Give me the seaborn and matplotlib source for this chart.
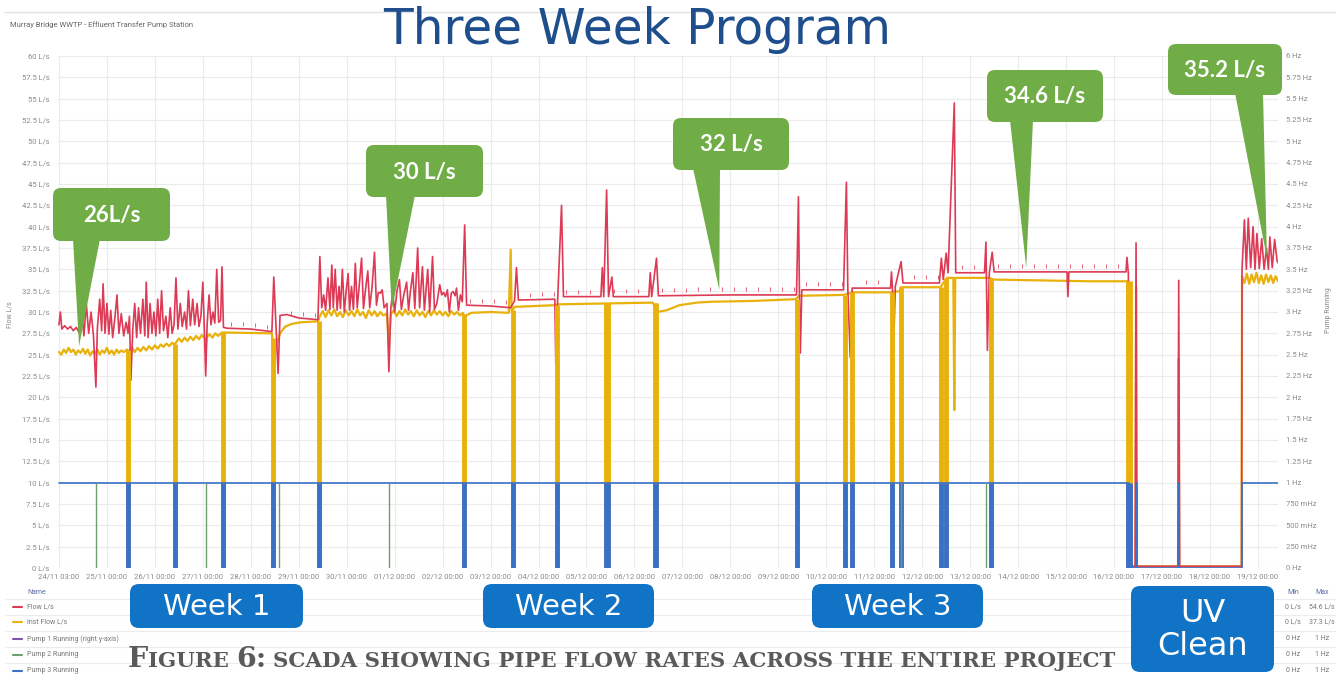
import numpy as np
import pandas as pd
import matplotlib
matplotlib.use("Agg")
import matplotlib.pyplot as plt
import seaborn as sns
from matplotlib.patches import FancyBboxPatch, Polygon

W, H = 1336, 675

# ---------------- data ----------------
day_labels = ["24/11 03:00", "25/11 00:00", "26/11 00:00", "27/11 00:00", "28/11 00:00",
              "29/11 00:00", "30/11 00:00", "01/12 00:00", "02/12 00:00", "03/12 00:00",
              "04/12 00:00", "05/12 00:00", "06/12 00:00", "07/12 00:00", "08/12 00:00",
              "09/12 00:00", "10/12 00:00", "11/12 00:00", "12/12 00:00", "13/12 00:00",
              "14/12 00:00", "15/12 00:00", "16/12 00:00", "17/12 00:00", "18/12 00:00",
              "19/12 00:00"]

# Flow L/s (red) : time in days since 24/11 00:00
flow_t = [0.00, 0.03, 0.06, 0.12, 0.18, 0.24, 0.30, 0.36, 0.42, 0.47, 0.52, 0.57, 0.62, 0.67, 0.72,
          0.77, 0.80, 0.85, 0.89, 0.92, 0.96, 1.00, 1.04, 1.08, 1.12, 1.17, 1.21, 1.25, 1.30, 1.35,
          1.40, 1.44,
          1.47, 1.50, 1.54, 1.58, 1.62, 1.66, 1.70, 1.75, 1.79, 1.82, 1.86, 1.90, 1.94, 1.98, 2.02,
          2.06, 2.10, 2.14, 2.18, 2.23, 2.27, 2.32, 2.36, 2.40,
          2.44, 2.48, 2.53, 2.57, 2.62, 2.66, 2.70, 2.74, 2.79, 2.83, 2.88, 2.92, 2.96, 3.00, 3.03,
          3.06, 3.09, 3.13, 3.17, 3.21, 3.25, 3.29, 3.33, 3.37, 3.40, 3.43,
          3.50, 4.00, 4.44, 4.48, 4.52, 4.57, 4.61, 4.75, 5.00, 5.40,
          5.44, 5.48, 5.52, 5.56, 5.61, 5.65, 5.69, 5.72, 5.76, 5.80, 5.84, 5.87, 5.91, 5.95, 5.99,
          6.03, 6.06, 6.10, 6.14, 6.18, 6.22, 6.26, 6.31, 6.35, 6.39, 6.44, 6.48, 6.53, 6.58, 6.62,
          6.66, 6.70, 6.74, 6.78, 6.84, 6.88, 6.92, 6.96, 7.00, 7.05, 7.10, 7.14, 7.19, 7.25, 7.29,
          7.33, 7.38, 7.42, 7.48, 7.52, 7.58, 7.62, 7.69, 7.73, 7.79, 7.83, 7.88, 7.94, 7.98, 8.02,
          8.06, 8.10, 8.14, 8.18, 8.22, 8.26, 8.29, 8.33, 8.37, 8.41,
          8.46, 8.50, 9.00, 9.42, 9.50, 9.54, 9.58, 10.34, 10.36, 10.40, 10.48, 10.52, 11.30, 11.33,
          11.36, 11.42, 11.46, 11.53, 11.56, 12.30, 12.33, 12.36, 12.46, 12.50, 14.00, 15.38,
          15.42, 15.44, 15.46, 15.49, 16.36, 16.42, 16.45, 16.50, 16.54, 17.34, 17.36, 17.38, 17.40,
          17.44, 17.56, 17.60, 18.36, 18.40, 18.44, 18.50, 18.54, 18.67, 18.70, 19.30, 19.33, 19.36,
          19.40, 19.46, 19.50, 21.02, 21.04, 21.06, 22.25, 22.27, 22.30,
          22.33, 22.44, 22.46, 22.48, 23.33, 23.35, 23.37, 24.66, 24.67,
          24.72, 24.76, 24.80, 24.85, 24.90, 24.94, 24.98, 25.03, 25.08, 25.13, 25.18, 25.22, 25.25,
          25.30, 25.35, 25.40, 25.45]
flow_v = [28.5, 30.0, 28.0, 28.4, 28.0, 28.3, 27.8, 28.2, 27.6, 30.5, 27.2, 31.0, 27.5, 30.0, 27.2,
          21.2, 28.0, 31.5, 27.8, 33.3, 27.5, 31.0, 27.4, 30.2, 27.0, 29.5, 32.0, 27.5, 29.8, 27.2,
          28.8, 27.5,
          29.5, 22.0, 28.0, 31.0, 27.0, 30.5, 27.5, 31.5, 27.2, 33.5, 27.0, 31.0, 27.5, 30.0, 27.2,
          31.5, 27.5, 32.5, 27.8, 29.5, 27.0, 30.5, 27.5, 28.5,
          34.0, 28.0, 31.0, 28.3, 30.0, 28.0, 32.5, 28.4, 31.5, 28.5, 31.0, 28.3, 29.5, 33.5, 28.3,
          22.5, 28.6, 32.0, 28.5, 30.0, 28.7, 35.0, 28.8, 29.0, 35.3, 28.2,
          28.1, 28.0, 27.7, 34.1, 29.0, 22.8, 29.6, 29.7, 29.3, 29.1,
          36.5, 30.5, 32.0, 30.2, 34.0, 30.3, 35.5, 30.5, 35.0, 30.2, 33.0, 30.4, 35.0, 30.0, 32.5,
          34.5, 30.2, 33.0, 30.3, 35.7, 30.5, 33.0, 36.3, 30.4, 32.5, 34.8, 30.5, 33.0, 37.0, 30.8,
          32.3, 32.2, 32.6, 30.5, 31.0, 23.0, 30.5, 32.2, 30.0, 32.5, 33.8, 30.3, 32.0, 33.5, 30.2,
          32.5, 34.6, 30.4, 37.5, 30.5, 35.3, 30.2, 35.0, 30.0, 36.5, 30.3, 31.0, 33.2, 32.0, 32.3,
          31.8, 32.6, 30.0, 32.2, 32.4, 31.9, 32.8, 30.2, 32.0, 31.2,
          40.2, 30.8, 30.7, 30.5, 31.3, 35.2, 31.4, 31.5, 24.0, 31.6, 42.5, 31.8, 31.8, 35.2,
          31.8, 44.3, 31.8, 34.1, 31.8, 31.8, 34.6, 31.8, 36.3, 31.9, 32.0, 32.0,
          43.5, 32.5, 25.2, 32.6, 32.6, 45.2, 32.6, 24.7, 32.8, 32.8, 34.7, 32.8, 25.2,
          33.0, 35.9, 33.4, 33.4, 36.3, 33.8, 36.9, 34.6, 54.5, 34.6, 34.6, 38.2, 25.5,
          34.6, 37.0, 34.7, 34.7, 31.8, 34.7, 34.7, 36.4, 34.5,
          0.2, 0.2, 38.1, 0.2, 0.2, 33.7, 0.2, 0.2, 35.0,
          40.8, 35.0, 41.0, 35.2, 40.0, 35.0, 39.2, 35.1, 38.6, 35.0, 37.5, 35.0, 38.8,
          35.2, 38.5, 36.0, 35.5]

# small periodic ticks on top of the flow line
flow_tick_t = [3.58, 3.83, 4.08, 4.33, 4.83, 5.08, 5.33, 8.58, 8.83, 9.08, 9.33, 9.83, 10.08, 10.33,
               10.58, 10.83, 11.08, 11.58, 11.83, 12.08, 12.58, 12.83, 13.08, 13.33, 13.58, 13.83,
               14.08, 14.33, 14.58, 14.83, 15.08, 15.33, 15.58, 15.83, 16.08, 16.33, 16.83, 17.08,
               17.33, 17.83, 18.08, 18.33, 18.83, 19.08, 19.58, 19.83, 20.08, 20.33, 20.58, 20.83,
               21.08, 21.33, 21.58, 21.83, 22.08]
flow_tick_v = [28.6, 28.6, 28.5, 28.3, 29.9, 29.8, 29.7, 31.3, 31.3, 31.3, 31.2, 32.0, 32.1, 32.1,
               32.4, 32.4, 32.4, 32.5, 32.5, 32.5, 32.6, 32.6, 32.6, 32.7, 32.7, 32.7,
               32.7, 32.7, 32.7, 32.7, 32.7, 32.7, 33.3, 33.3, 33.3, 33.3, 33.5, 33.5,
               33.5, 34.1, 34.1, 34.1, 35.3, 35.3, 35.4, 35.4, 35.4, 35.4, 35.4, 35.4,
               35.4, 35.4, 35.4, 35.4, 35.4]

# Inst Flow L/s (yellow)
inst_t = [0.00, 0.05, 0.10, 0.15, 0.20, 0.25, 0.30, 0.35, 0.40, 0.45, 0.50, 0.55, 0.60, 0.65, 0.70,
          0.75, 0.80, 0.85, 0.90, 0.95, 1.00, 1.05, 1.10, 1.15, 1.20, 1.25, 1.30, 1.35, 1.42,
          1.46, 1.52, 1.58, 1.64, 1.70, 1.76, 1.82, 1.88, 1.94, 2.00, 2.06, 2.12, 2.18, 2.24, 2.30,
          2.36, 2.40,
          2.44, 2.50, 2.56, 2.62, 2.68, 2.74, 2.80, 2.86, 2.92, 2.98, 3.04, 3.06, 3.08, 3.14, 3.20,
          3.26, 3.32, 3.40, 3.44, 4.44,
          4.48, 4.55, 4.62, 4.72, 4.85, 5.05, 5.40,
          5.44, 5.50, 5.56, 5.62, 5.68, 5.74, 5.80, 5.86, 5.92, 5.98, 6.04, 6.10, 6.16, 6.22, 6.28,
          6.34, 6.40, 6.46, 6.52, 6.58, 6.64, 6.70, 6.76, 6.84, 6.88, 6.92, 6.98, 7.04, 7.10, 7.16,
          7.22, 7.28, 7.34, 7.40, 7.46, 7.52, 7.58, 7.64, 7.70, 7.76, 7.82, 7.88, 7.94, 8.00, 8.06,
          8.12, 8.18, 8.24, 8.30, 8.36, 8.42,
          8.46, 8.60, 9.00, 9.38, 9.42, 9.44, 9.50, 10.34, 10.42, 11.36, 11.46, 12.38,
          12.48, 12.67, 12.94, 13.30, 13.60, 14.50, 15.36, 15.44, 16.36,
          16.54, 17.36, 17.38, 17.42, 17.52, 17.56, 18.38, 18.52, 18.65, 18.67, 18.69, 19.40,
          19.48, 20.50, 21.50, 22.28,
          22.33, 22.45, 22.46, 22.47, 23.34, 23.35, 23.36, 24.66,
          24.67, 24.72, 24.77, 24.82, 24.87, 24.92, 24.97, 25.02, 25.07, 25.12, 25.17, 25.22, 25.27,
          25.32, 25.37, 25.42]
inst_v = [25.3, 25.0, 25.6, 25.2, 25.8, 25.3, 25.6, 25.0, 25.5, 25.2, 25.7, 25.1, 25.6, 24.9, 25.4,
          25.1, 25.6, 25.0, 25.5, 25.2, 25.8, 25.1, 25.5, 25.0, 25.6, 25.2, 25.5, 25.3, 25.6,
          25.4, 25.9, 25.3, 25.8, 25.4, 25.9, 25.5, 26.0, 25.6, 26.1, 25.7, 26.2, 25.9, 26.3, 26.0,
          26.4, 26.2,
          26.4, 26.9, 26.5, 27.0, 26.6, 27.1, 26.7, 27.2, 26.8, 27.3, 26.9, 26.0, 27.0, 27.4, 27.0,
          27.5, 27.2, 27.6, 27.6, 27.5,
          24.8, 26.5, 27.6, 28.3, 28.6, 28.8, 28.9,
          29.5, 30.1, 29.4, 30.2, 29.6, 30.3, 29.5, 30.0, 29.4, 30.2, 29.6, 30.1, 29.5, 30.3, 29.6,
          30.0, 29.3, 30.2, 29.6, 30.1, 29.5, 30.0, 29.6, 29.8, 26.0, 29.7, 30.2, 29.5, 30.1, 29.6,
          30.3, 29.7, 30.1, 29.5, 30.2, 29.6, 30.0, 29.4, 30.1, 29.6, 30.2, 29.7, 30.1, 29.6, 30.0,
          29.5, 30.1, 29.7, 30.0, 29.6, 29.9,
          29.5, 29.9, 30.0, 29.9, 37.3, 30.0, 30.6, 30.8, 30.9, 31.0, 31.0, 31.1,
          30.0, 30.2, 30.8, 31.1, 31.2, 31.3, 31.5, 31.9, 32.0,
          32.3, 32.3, 26.4, 32.4, 32.4, 32.9, 32.9, 34.0, 34.0, 18.5, 34.0, 34.0,
          33.8, 33.7, 33.6, 33.6,
          0.2, 0.2, 33.0, 0.2, 0.2, 24.5, 0.2, 0.2,
          34.2, 33.4, 34.5, 33.3, 34.4, 33.5, 34.6, 33.4, 34.3, 33.3, 34.4, 33.5, 34.3,
          33.4, 34.2, 33.6]

# pump change-over events: both flows briefly drop to zero
switch_t = [1.44, 2.42, 3.42, 4.46, 5.42, 8.44, 9.46, 10.38, 11.40, 11.45, 12.42, 12.46, 15.40,
            16.40, 16.53, 17.38, 17.55, 18.40, 18.50, 19.44, 22.30, 22.33]
switch_top = [25.6, 26.3, 27.6, 27.0, 29.0, 29.8, 30.2, 30.8, 31.0, 31.0, 31.1, 31.0, 31.5,
              32.0, 32.3, 32.3, 32.9, 32.9, 34.0, 34.0, 33.6, 33.6]

# Pump 3 Running (Hz, right axis)
pump3_t = [0.00, 22.31, 22.31, 22.46, 22.46, 22.47, 22.47, 23.35, 23.35, 23.36, 23.36, 24.67,
           24.67, 25.45]
pump3_hz = [1, 1, 0, 0, 1, 1, 0, 0, 1, 1, 0, 0, 1, 1]
pump3_off_t = switch_t
# Pump 2 Running (Hz) : short runs
pump2_t = [0.77, 3.06, 4.58, 6.88, 17.56, 19.33]

flow_ticks = np.arange(0, 60.01, 2.5)
hz_ticks = np.arange(0, 6.01, 0.25)
hz_labels = ["0 Hz", "250 mHz", "500 mHz", "750 mHz", "1 Hz", "1.25 Hz", "1.5 Hz", "1.75 Hz",
             "2 Hz", "2.25 Hz", "2.5 Hz", "2.75 Hz", "3 Hz", "3.25 Hz", "3.5 Hz", "3.75 Hz",
             "4 Hz", "4.25 Hz", "4.5 Hz", "4.75 Hz", "5 Hz", "5.25 Hz", "5.5 Hz", "5.75 Hz", "6 Hz"]

callout_labels = ["26L/s", "30 L/s", "32 L/s", "34.6 L/s", "35.2 L/s"]
callout_tip_day = [0.42, 6.94, 13.77, 20.17, 25.19]
callout_tip_flow = [26.0, 30.2, 32.6, 35.2, 36.3]

week_labels = ["Week 1", "Week 2", "Week 3", "UV\nClean"]

legend_names = ["Flow L/s", "Inst Flow L/s", "Pump 1 Running (right y-axis)", "Pump 2 Running",
                "Pump 3 Running"]
legend_min = ["0 L/s", "0 L/s", "0 Hz", "0 Hz", "0 Hz"]
legend_max = ["54.6 L/s", "37.3 L/s", "1 Hz", "1 Hz", "1 Hz"]

# ---------------- style ----------------
RED = "#dd3a55"
YEL = "#e8b10c"
BLUE = "#3b70c8"
GREEN = "#6e9e6e"
PURPLE = "#7d52a8"
CALLOUT = "#70ad47"
BOXBLUE = "#1173c5"
TITLE = "#1f4e8c"
TICKC = "#8a8a8a"

sns.set_theme(style="white")
plt.rcParams['font.family'] = ['DejaVu Sans']

fig = plt.figure(figsize=(W / 100, H / 100), dpi=100)
fig.patch.set_facecolor("white")
ax = fig.add_axes([58 / W, 1 - 568 / H, (1278 - 58) / W, (568 - 56) / H])
ax.set_xlim(-0.02, 25.42)
ax.set_ylim(0, 60)
ax.set_xticks(np.arange(len(day_labels)))
ax.set_xticklabels(day_labels)
ax.set_yticks(flow_ticks)
ax.set_yticklabels([f"{v:g} L/s" for v in flow_ticks])
ax.grid(True, color="#ebebeb", lw=0.8)
ax.set_axisbelow(True)
for s in ax.spines.values():
    s.set_visible(False)
ax.tick_params(axis="y", length=0, labelsize=5.5, labelcolor=TICKC, pad=6)
ax.tick_params(axis="x", length=0, labelsize=5.5, labelcolor=TICKC, pad=4)

sns.lineplot(x=inst_t, y=inst_v, ax=ax, color=YEL, lw=1.6, estimator=None, sort=False, zorder=2)
sns.lineplot(x=flow_t, y=flow_v, ax=ax, color=RED, lw=1.2, estimator=None, sort=False, zorder=2.5)
ax.scatter(flow_tick_t, flow_tick_v, marker="|", s=6, color=RED, linewidths=0.7, alpha=0.8,
           zorder=2.5)
ax.vlines(switch_t, 0, switch_top, color=YEL, lw=3.5, zorder=3)
ax.set_xlabel("")
ax.set_ylabel("")

ax2 = ax.twinx()
ax2.set_ylim(0, 6)
ax2.set_yticks(hz_ticks)
ax2.set_yticklabels(hz_labels)
ax2.grid(False)
for s in ax2.spines.values():
    s.set_visible(False)
ax2.tick_params(axis="y", length=0, labelsize=5.5, labelcolor=TICKC, pad=6)
ax2.vlines(pump3_off_t, 0, 1, color=BLUE, lw=3.5, zorder=3)
sns.lineplot(x=pump3_t, y=pump3_hz, ax=ax2, color=BLUE, lw=1.2, estimator=None, sort=False, zorder=3)
ax2.vlines(pump2_t, 0, 1, color=GREEN, lw=1.0, zorder=3)
ax2.set_ylabel("")

for lab in ax.get_xticklabels() + ax.get_yticklabels() + ax2.get_yticklabels():
    lab.set_fontfamily("Roboto")

# ---------------- overlay (pixel coordinates) ----------------
ov = fig.add_axes([0, 0, 1, 1], zorder=10)
ov.set_xlim(0, W)
ov.set_ylim(H, 0)
ov.axis("off")


def to_px(d, v):
    x, y = ax.transData.transform((d, v))
    return x, H - y


# frame line and header text
ov.plot([4, W], [12, 12], color="#e2e2e2", lw=1.0)
ov.text(10, 25, "Murray Bridge WWTP - Effluent Transfer Pump Station", fontsize=5.5,
        color="#666666", va="center", ha="left", family="Roboto")
ov.text(10, 315, "Flow L/s", fontsize=5, color="#888888", rotation=90, va="center", ha="center",
        family="Roboto")
ov.text(1329, 310, "Pump Running", fontsize=5, color="#888888", rotation=90, va="center",
        ha="center", family="Roboto")

# title
ov.text(637, 44, "Three Week Program", fontsize=35, color=TITLE, ha="center", va="baseline",
        family="DejaVu Sans")

# callouts
callout_boxes = [(53, 188, 170, 241), (366, 145, 483, 197), (673, 118, 789, 170),
                 (987, 70, 1103, 122), (1168, 44, 1282, 95)]
callout_bases = [(73, 100), (386, 415), (693, 720), (1010, 1033), (1235, 1263)]
for lab, (x0, y0, x1, y1), (b0, b1), td, tv in zip(callout_labels, callout_boxes, callout_bases,
                                                   callout_tip_day, callout_tip_flow):
    tip = to_px(td, tv)
    ov.add_patch(FancyBboxPatch((x0, y0), x1 - x0, y1 - y0,
                                boxstyle="round,pad=0,rounding_size=8", fc=CALLOUT, ec="none"))
    ov.add_patch(Polygon([(b0, y1 - 2), (b1, y1 - 2), tip], closed=True, fc=CALLOUT, ec="none"))
    ov.text((x0 + x1) / 2, (y0 + y1) / 2 + 1, lab, color="white", fontsize=16, fontweight="bold",
            ha="center", va="center", family="Lato")

# week boxes
week_boxes = [(130, 584, 303, 628), (483, 584, 654, 628), (812, 584, 983, 628), (1131, 586, 1274, 672)]
for lab, (x0, y0, x1, y1) in zip(week_labels, week_boxes):
    ov.add_patch(FancyBboxPatch((x0, y0), x1 - x0, y1 - y0,
                                boxstyle="round,pad=0,rounding_size=9", fc=BOXBLUE, ec="none"))
    fs = 23 if "\n" in lab else 21
    ov.text((x0 + x1) / 2, (y0 + y1) / 2 + 1, lab, color="white", fontsize=fs, ha="center",
            va="center", linespacing=1.05, family="DejaVu Sans")

# legend table
row_y = [607, 622, 639, 655, 671]
for yy in [599, 615, 631, 647, 663]:
    ov.plot([5, W], [yy, yy], color="#ececec", lw=0.8, zorder=0)
ov.text(27, 592, "Name", fontsize=5, color="#5b6ca8", va="center", family="Roboto")
ov.text(1293, 592, "Min", fontsize=5, color="#5b6ca8", va="center", ha="center", family="Roboto")
ov.text(1322, 592, "Max", fontsize=5, color="#5b6ca8", va="center", ha="center", family="Roboto")
for yy, nm, c, mn, mx in zip(row_y, legend_names, [RED, YEL, PURPLE, GREEN, BLUE], legend_min,
                             legend_max):
    ov.plot([13, 22], [yy, yy], color=c, lw=1.5)
    ov.text(27, yy, nm, fontsize=5, color="#777777", va="center", family="Roboto")
    ov.text(1293, yy, mn, fontsize=5, color="#777777", va="center", ha="center", family="Roboto")
    ov.text(1322, yy, mx, fontsize=5, color="#777777", va="center", ha="center", family="Roboto")

# caption with emulated small caps
renderer = fig.canvas.get_renderer()
caption_parts = [("F", 20.5), ("IGURE", 15.4), (" ", None), ("6:", 20.5), (" ", None),
                 ("SCADA SHOWING PIPE FLOW RATES ACROSS THE ENTIRE PROJECT", 15.4)]
cx = 128
for s, size in caption_parts:
    if size is None:
        cx += 7
        continue
    t = ov.text(cx, 667, s, fontsize=size, fontweight="bold", family="DejaVu Serif",
                color="#5a5a5a", va="baseline", ha="left")
    cx += t.get_window_extent(renderer).width

fig.savefig("out.png", dpi=100, facecolor="white")
